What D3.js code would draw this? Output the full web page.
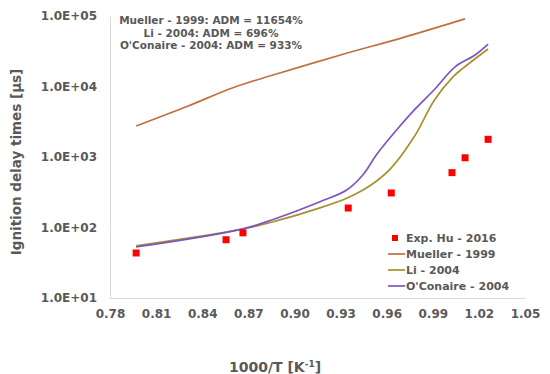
<!DOCTYPE html>
<html>
<head>
<meta charset="utf-8">
<script src="https://cdn.jsdelivr.net/npm/d3@7"></script>
<style>
  body { margin: 0; background: #fff; }
  text { font-family: "DejaVu Sans", Verdana, sans-serif; font-weight: bold; fill: #595959; }
</style>
</head>
<body>
<svg width="550" height="374"></svg>
<script>
const expX = [0.797, 0.8555, 0.8665, 0.935, 0.963, 1.0025, 1.011, 1.026];
const expY = [43.5, 67, 84, 189, 309, 600, 975, 1780];

const muellerX = [0.797, 0.83, 0.86, 0.885, 0.93, 0.97, 1.011];
const muellerY = [2750, 5200, 9600, 14300, 28000, 49000, 91000];

const liX = [0.797, 0.866, 0.887, 0.9166, 0.934, 0.9446, 0.9537, 0.963, 0.978, 0.991, 1.003, 1.0097, 1.026];
const liY = [55, 95, 122, 190, 260, 340, 460, 700, 1950, 6400, 13600, 18200, 34000];

const ocX = [0.797, 0.866, 0.887, 0.9166, 0.934, 0.9446, 0.9537, 0.9667, 0.978, 0.9915, 1.0045, 1.0175, 1.026];
const ocY = [53, 95, 132, 232, 340, 560, 1100, 2450, 4650, 9300, 19000, 28000, 40000];

const xTicks = [0.78, 0.81, 0.84, 0.87, 0.90, 0.93, 0.96, 0.99, 1.02, 1.05];
const yTicks = [10, 100, 1000, 10000, 100000];

const notes = [
  "Mueller - 1999: ADM = 11654%",
  "Li - 2004: ADM = 696%",
  "O'Conaire - 2004: ADM = 933%",
];

const series = [
  { name: "Mueller - 1999", xs: muellerX, ys: muellerY, color: "#c0703e" },
  { name: "Li - 2004", xs: liX, ys: liY, color: "#a8902c" },
  { name: "O'Conaire - 2004", xs: ocX, ys: ocY, color: "#7e55c0" },
];

const svg = d3.select("svg");
const area = { left: 110, right: 525, top: 16, bottom: 298 };

const scX = d3.scaleLinear().domain([0.78, 1.05]).range([area.left, area.right]);
const scY = d3.scaleLog().domain([10, 100000]).range([area.bottom, area.top]);

// axes
const axX = svg.append("g")
  .attr("transform", `translate(0, ${area.bottom})`)
  .call(d3.axisBottom(scX).tickValues(xTicks).tickSize(0).tickPadding(11).tickFormat(d3.format(".2f")));
axX.select(".domain").attr("stroke", "#d9d9d9");
axX.selectAll("text").attr("font-size", 12).style("font-family", "DejaVu Sans").style("font-weight", "bold").attr("fill", "#595959");

const axY = svg.append("g")
  .attr("transform", `translate(${area.left}, 0)`)
  .call(d3.axisLeft(scY).tickValues(yTicks).tickSize(0).tickPadding(13)
    .tickFormat((d) => "1.0E+" + String(Math.round(Math.log10(d))).padStart(2, "0")));
axY.select(".domain").attr("stroke", "#d9d9d9");
axY.selectAll("text").attr("font-size", 12).style("font-family", "DejaVu Sans").style("font-weight", "bold").attr("fill", "#595959");

// titles
const xt = svg.append("text")
  .attr("x", 275).attr("y", 372)
  .attr("text-anchor", "middle").attr("font-size", 14)
  .text("1000/T [K");
xt.append("tspan").attr("font-size", 9).attr("dy", -5).text("-1");
xt.append("tspan").attr("dy", 5).text("]");

svg.append("text")
  .attr("transform", "translate(21, 162) rotate(-90)")
  .attr("text-anchor", "middle").attr("font-size", 13.5)
  .text("Ignition delay times [µs]");

// lines
const line = d3.line()
  .x((d) => scX(d[0]))
  .y((d) => scY(d[1]))
  .curve(d3.curveCatmullRom.alpha(0.5));

series.forEach((s) => {
  svg.append("path")
    .datum(s.xs.map((x, i) => [x, s.ys[i]]))
    .attr("d", line)
    .attr("fill", "none")
    .attr("stroke", s.color)
    .attr("stroke-width", 1.7);
});

// experimental points
const sq = 7;
svg.append("g")
  .selectAll("rect")
  .data(expX.map((x, i) => [x, expY[i]]))
  .enter()
  .append("rect")
  .attr("x", (d) => scX(d[0]) - sq / 2)
  .attr("y", (d) => scY(d[1]) - sq / 2)
  .attr("width", sq)
  .attr("height", sq)
  .attr("fill", "#ff0000");

// ADM notes
svg.append("g")
  .selectAll("text")
  .data(notes)
  .enter()
  .append("text")
  .attr("x", 211)
  .attr("y", (d, i) => 24 + i * 12.5)
  .attr("text-anchor", "middle")
  .attr("font-size", 10.5)
  .text((d) => d);

// legend
const lg = svg.append("g").attr("transform", "translate(388, 238)");
lg.append("rect").attr("x", 4).attr("y", -3).attr("width", 6).attr("height", 6).attr("fill", "#ff0000");
lg.append("text").attr("x", 18).attr("y", 4).attr("font-size", 11).text("Exp. Hu - 2016");
series.forEach((s, i) => {
  const y = 16 * (i + 1);
  lg.append("line").attr("x1", 0).attr("x2", 17).attr("y1", y).attr("y2", y)
    .attr("stroke", s.color).attr("stroke-width", 1.7);
  lg.append("text").attr("x", 18).attr("y", y + 4).attr("font-size", 11).text(s.name);
});
</script>
</body>
</html>
